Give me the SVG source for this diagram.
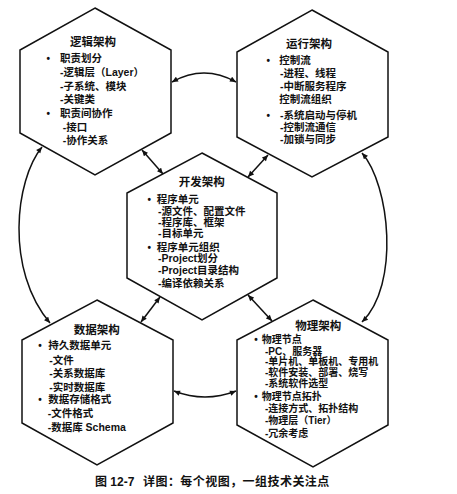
<svg xmlns="http://www.w3.org/2000/svg" width="457" height="494" viewBox="0 0 457 494">
<style>
.hex{fill:#fff;stroke:#111;stroke-width:1.5;stroke-linejoin:miter}
text{font-family:"Liberation Sans","Noto Sans CJK SC",sans-serif;fill:#111}
.t{font-size:11.5px;font-weight:600;text-anchor:middle}
.i{font-size:10.5px;font-weight:700}
.p{font-size:10px;font-weight:700}
.b{font-size:10px;font-weight:700;text-anchor:middle}
.c{fill:none;stroke:#111;stroke-width:1.5;marker-start:url(#ah);marker-end:url(#ah)}
.cap{font-size:12px;font-weight:700}
</style>
<defs>
<marker id="ah" viewBox="0 0 10 10" refX="10" refY="5" markerWidth="7" markerHeight="6" markerUnits="userSpaceOnUse" orient="auto-start-reverse">
<path d="M0,0.5 L10,5 L0,9.5 z" fill="#111"/>
</marker>
</defs>
<rect width="457" height="494" fill="#fff"/>

<g id="connectors">
<path class="c" d="M172,82 Q204,64 236,82"/>
<path class="c" d="M42,147 C15,180 5,270 50,323"/>
<path class="c" d="M362,153 C390,185 400,285 362,322"/>
<path class="c" d="M174,391 Q205,403 236,391"/>
<path class="c" d="M142,150 L163,174"/>
<path class="c" d="M268,155 L248,177"/>
<path class="c" d="M160,297 L141,322"/>
<path class="c" d="M248,295 L272,321"/>
</g>

<g id="logical">
<polygon class="hex" points="95,8 171,50 171,133 95,175 20,133 20,50"/>
<text class="t" x="93" y="45.5">逻辑架构</text>
<text class="b" x="48.3" y="62">•</text>
<text class="i" x="60" y="62">职责划分</text>
<text class="i" x="60" y="75.5">-逻辑层（Layer）</text>
<text class="i" x="60" y="90">-子系统、模块</text>
<text class="i" x="60" y="103">-关键类</text>
<text class="b" x="48.3" y="116.5">•</text>
<text class="i" x="60" y="116.5">职责间协作</text>
<text class="i" x="62.7" y="130.5">-接口</text>
<text class="i" x="62.7" y="144">-协作关系</text>
</g>

<g id="runtime">
<polygon class="hex" points="312,10 388,52 388,137 312,177 237,137 237,52"/>
<text class="t" x="309" y="47.5">运行架构</text>
<text class="b" x="268.3" y="64">•</text>
<text class="i" x="279.3" y="64">控制流</text>
<text class="i" x="280" y="77">-进程、线程</text>
<text class="i" x="280" y="90">-中断服务程序</text>
<text class="i" x="279.3" y="103">控制流组织</text>
<text class="b" x="268.3" y="119">•</text>
<text class="i" x="280" y="119">-系统启动与停机</text>
<text class="i" x="280" y="130.5">-控制流通信</text>
<text class="i" x="280" y="143">-加锁与同步</text>
</g>

<g id="development">
<polygon class="hex" points="202,153 277,193 277,278 202,320 127,278 127,193"/>
<text class="t" x="201.7" y="186">开发架构</text>
<text class="b" x="149.3" y="203">•</text>
<text class="i" x="156.7" y="203">程序单元</text>
<text class="i" x="158" y="214.5">-源文件、配置文件</text>
<text class="i" x="158" y="225.5">-程序库、框架</text>
<text class="i" x="158" y="237">-目标单元</text>
<text class="b" x="149.3" y="251">•</text>
<text class="i" x="156.7" y="251">程序单元组织</text>
<text class="i" x="158" y="262">-Project划分</text>
<text class="i" x="158" y="274">-Project目录结构</text>
<text class="i" x="158" y="287">-编译依赖关系</text>
</g>

<g id="data">
<polygon class="hex" points="97,300 173,340 173,423 97,465 22,423 22,340"/>
<text class="t" x="96.7" y="333.5">数据架构</text>
<text class="b" x="40" y="349">•</text>
<text class="i" x="48.3" y="349">持久数据单元</text>
<text class="i" x="49.3" y="364">-文件</text>
<text class="i" x="49.3" y="376.5">-关系数据库</text>
<text class="i" x="49.3" y="390.5">-实时数据库</text>
<text class="b" x="40" y="403">•</text>
<text class="i" x="48.3" y="403">数据存储格式</text>
<text class="i" x="47.7" y="417">-文件格式</text>
<text class="i" x="47.7" y="430.5">-数据库 Schema</text>
</g>

<g id="physical">
<polygon class="hex" points="313,300 388,340 388,425 313,467 237,425 237,340"/>
<text class="t" x="318.3" y="330">物理架构</text>
<text class="b" x="256" y="343">•</text>
<text class="p" x="261.7" y="343">物理节点</text>
<text class="p" x="265" y="354.5">-PC、服务器</text>
<text class="p" x="265" y="364.7">-单片机、单板机、专用机</text>
<text class="p" x="265" y="375.5">-软件安装、部署、烧写</text>
<text class="p" x="265" y="387">-系统软件选型</text>
<text class="b" x="256" y="399.7">•</text>
<text class="p" x="261.7" y="399.7">物理节点拓扑</text>
<text class="p" x="265" y="412">-连接方式、拓扑结构</text>
<text class="p" x="265" y="423.7">-物理层（Tier）</text>
<text class="p" x="265" y="436.5">-冗余考虑</text>
</g>

<text class="cap" y="485.5"><tspan x="95">图 12-7</tspan><tspan x="143" letter-spacing="0.45">详图：每个视图，一组技术关注点</tspan></text>
</svg>
